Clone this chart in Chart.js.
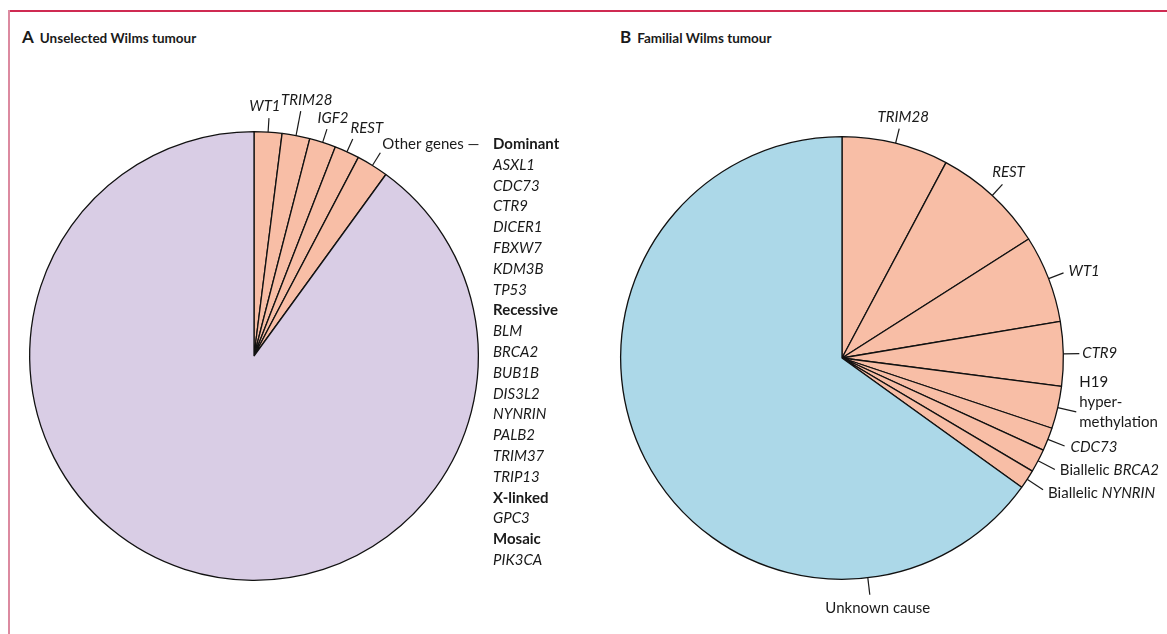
<!DOCTYPE html>
<html>
<head>
<meta charset="utf-8">
<script src="https://cdn.jsdelivr.net/npm/chart.js@4.4.0/dist/chart.umd.min.js"></script>
<style>
  body { margin: 0; background: #fff; font-family: Lato, "Noto Sans", sans-serif; color: #1a1a1a; }
  #page { position: relative; width: 1167px; height: 634px; overflow: hidden; }
  .frame-top { position: absolute; left: 8px; top: 10px; right: 0; height: 2px; background: #cf2a52; }
  .frame-left { position: absolute; left: 8px; top: 10px; width: 2px; bottom: 0; background: #dc8aa0; }
  .title { position: absolute; top: 26px; font-weight: bold; font-size: 13.5px; white-space: nowrap; }
  .title span { font-size: 17px; margin-right: 6px; }
  canvas { position: absolute; top: 0; }
  #genes { position: absolute; left: 493px; top: 133px; font-size: 15px; line-height: 20.8px; }
  #genes .h { font-weight: bold; }
  #genes .g { font-style: italic; }
</style>
</head>
<body>
<div id="page">
  <div class="frame-top"></div>
  <div class="frame-left"></div>
  <div class="title" style="left:22px"><span>A</span>Unselected Wilms tumour</div>
  <div class="title" style="left:620px"><span>B</span>Familial Wilms tumour</div>
  <canvas id="chartA" width="583" height="634" style="left:0"></canvas>
  <canvas id="chartB" width="584" height="634" style="left:583px"></canvas>
  <div id="genes"></div>
</div>
<script>
// *text* = italic, \n = line break
var unselectedLabels = ["*WT1*", "*TRIM28*", "*IGF2*", "*REST*", "Other genes \u2014", ""];
var unselectedValues = [2.0, 2.0, 1.9, 1.8, 2.3, 90.0];

var familialLabels = ["*TRIM28*", "*REST*", "*WT1*", "*CTR9*", "H19\nhyper-\nmethylation", "*CDC73*", "Biallelic *BRCA2*", "Biallelic *NYNRIN*", "Unknown cause"];
var familialValues = [7.8, 8.2, 6.4, 4.7, 3.1, 1.7, 1.7, 1.4, 65.2];

var dominantGenes = ["ASXL1", "CDC73", "CTR9", "DICER1", "FBXW7", "KDM3B", "TP53"];
var recessiveGenes = ["BLM", "BRCA2", "BUB1B", "DIS3L2", "NYNRIN", "PALB2", "TRIM37", "TRIP13"];
var xLinkedGenes = ["GPC3"];
var mosaicGenes = ["PIK3CA"];

var PINK = "#f8bea6";
var PURPLE = "#d9cde5";
var BLUE = "#acd8e8";
var FONT = "15px Lato";

// leader line length, text offset from the line end, alignment, optional angle (deg from 12 o'clock)
var layoutA = [
    { len: 14, dx: -4, dy: -12, align: "center" },
    { len: 25, dx: 6, dy: -11, align: "center" },
    { len: 14, dx: 6, dy: -11, align: "center" },
    { len: 14, dx: 14, dy: -11, align: "center" },
    { len: 15, dx: 2, dy: -9, align: "left" },
    null
];
var layoutB = [
    { len: 15, dx: 4, dy: -12, align: "center" },
    { len: 15, dx: 6, dy: -12, align: "center" },
    { len: 16, dx: 5, dy: -2, align: "left" },
    { len: 16, dx: 3, dy: 0, align: "left" },
    { len: 19, dx: 3, dy: -10, align: "left" },
    { len: 18, dx: 6, dy: 1, align: "left" },
    { len: 19, dx: 5, dy: 1, align: "left" },
    { len: 19, dx: 5, dy: 3, align: "left" },
    { len: 17, dx: 8, dy: 13, align: "center", angle: 173.3 }
];

function plain(label) {
    return label.replace(/\*/g, "").replace(/\n/g, " ");
}

function drawRuns(ctx, line, x, y, align) {
    var parts = line.split("*");
    var widths = [];
    var total = 0;
    for (var i = 0; i < parts.length; i++) {
        ctx.font = (i % 2 ? "italic " : "") + FONT;
        widths.push(ctx.measureText(parts[i]).width);
        total += widths[i];
    }
    var cx = align == "center" ? x - total / 2 : x;
    for (var j = 0; j < parts.length; j++) {
        ctx.font = (j % 2 ? "italic " : "") + FONT;
        ctx.fillText(parts[j], cx, y);
        cx += widths[j];
    }
}

var leaderLabels = {
    id: "leaderLabels",
    afterDatasetsDraw: function (chart, args, opts) {
        var ctx = chart.ctx;
        var arcs = chart.getDatasetMeta(0).data;
        ctx.save();
        ctx.strokeStyle = "#1a1a1a";
        ctx.fillStyle = "#1a1a1a";
        ctx.lineWidth = 1.2;
        ctx.textBaseline = "middle";
        ctx.textAlign = "left";
        opts.layout.forEach(function (item, i) {
            if (!item) return;
            var p = arcs[i].getProps(["x", "y", "startAngle", "endAngle", "outerRadius"], true);
            var a = item.angle != null ? (item.angle - 90) * Math.PI / 180 : (p.startAngle + p.endAngle) / 2;
            var x0 = p.x + Math.cos(a) * p.outerRadius;
            var y0 = p.y + Math.sin(a) * p.outerRadius;
            var x1 = p.x + Math.cos(a) * (p.outerRadius + item.len);
            var y1 = p.y + Math.sin(a) * (p.outerRadius + item.len);
            ctx.beginPath();
            ctx.moveTo(x0, y0);
            ctx.lineTo(x1, y1);
            ctx.stroke();
            var lines = opts.labels[i].split("\n");
            var lh = 20;
            var top = y1 + item.dy - (lines.length - 1) * lh / 2;
            lines.forEach(function (line, k) {
                drawRuns(ctx, line, x1 + item.dx, top + k * lh, item.align);
            });
        });
        ctx.restore();
    }
};

function makePie(id, labels, values, colors, layout, padding) {
    return new Chart(document.getElementById(id), {
        type: "pie",
        data: {
            labels: labels.map(plain),
            datasets: [{
                data: values,
                backgroundColor: colors,
                borderColor: "#111",
                borderWidth: 1.3
            }]
        },
        options: {
            responsive: false,
            animation: false,
            layout: { padding: padding },
            plugins: {
                legend: { display: false },
                tooltip: { enabled: false },
                leaderLabels: { layout: layout, labels: labels }
            }
        },
        plugins: [leaderLabels]
    });
}

makePie("chartA", unselectedLabels, unselectedValues,
    unselectedValues.map(function (v, i) { return i < unselectedValues.length - 1 ? PINK : PURPLE; }),
    layoutA, { left: 29, top: 131, right: 104, bottom: 53 });

makePie("chartB", familialLabels, familialValues,
    familialValues.map(function (v, i) { return i < familialValues.length - 1 ? PINK : BLUE; }),
    layoutB, { left: 37, top: 136, right: 103, bottom: 54 });

var html = "";
function addGroup(title, genes) {
    html += '<div class="h">' + title + "</div>";
    genes.forEach(function (g) { html += '<div class="g">' + g + "</div>"; });
}
addGroup("Dominant", dominantGenes);
addGroup("Recessive", recessiveGenes);
addGroup("X-linked", xLinkedGenes);
addGroup("Mosaic", mosaicGenes);
document.getElementById("genes").innerHTML = html;
</script>
</body>
</html>
